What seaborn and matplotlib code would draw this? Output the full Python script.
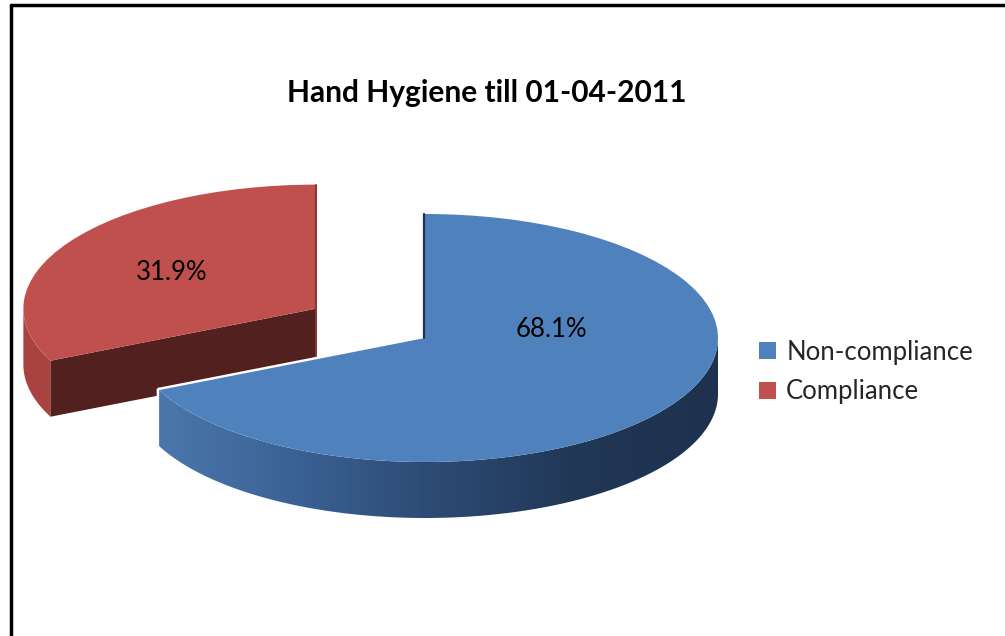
import numpy as np
import matplotlib
matplotlib.use("Agg")
import matplotlib.pyplot as plt
import matplotlib.patches as mpatches
from matplotlib.colors import LinearSegmentedColormap
from matplotlib.lines import Line2D
import seaborn as sns

# data
categories = ["Non-compliance", "Compliance"]
shares = [68.1, 31.9]
explode = [0.0, 0.44]
colors = ["#4f81bd", "#c0504d"]
title = "Hand Hygiene till 01-04-2011"

sns.set_theme(style="white")
plt.rcParams["font.family"] = ["Lato", "DejaVu Sans"]

W, H = 1005, 636
cx, cy, rx, ry = 425, 338, 293, 124   # pie centre / radii in pixels
depth = 56 / ry                         # thickness in data units

fig = plt.figure(figsize=(W / 100, H / 100), dpi=100)
ax = fig.add_axes([0, 0, 1, 1])

wedges, _ = ax.pie(shares, colors=colors, explode=explode, startangle=90,
                   counterclock=False, radius=1, wedgeprops=dict(linewidth=0))

side_col = {"Compliance": "#a9433f"}
cut_col = {"Compliance": "#52201f"}
blue_grad = LinearSegmentedColormap.from_list(
    "side", ["#4b77ad", "#3a6193", "#2c4a72", "#213756", "#1e324f"])


def rim_polygon(w):
    t = np.radians(np.linspace(w.theta1, w.theta2, 400))
    t = t[np.sin(t) <= 0]
    if len(t) < 2:
        return None
    x0, y0 = w.center
    top = np.column_stack([x0 + w.r * np.cos(t), y0 + w.r * np.sin(t)])
    bot = top - [0, depth]
    return np.vstack([top, bot[::-1]])


def cut_polygon(w):
    # radial face whose outward normal points towards the viewer
    x0, y0 = w.center
    for a, n in ((w.theta1, w.theta1 - 90), (w.theta2, w.theta2 + 90)):
        if np.sin(np.radians(n)) < -0.05:
            ex = x0 + w.r * np.cos(np.radians(a))
            ey = y0 + w.r * np.sin(np.radians(a))
            return np.array([[x0, y0], [ex, ey], [ex, ey - depth], [x0, y0 - depth]])
    return None


blue, red = wedges

# back slice (Compliance)
red.set_zorder(2)
rp = rim_polygon(red)
if rp is not None:
    ax.add_patch(mpatches.Polygon(rp, fc=side_col["Compliance"], ec="none", zorder=1))
cp = cut_polygon(red)
if cp is not None:
    ax.add_patch(mpatches.Polygon(cp, fc=cut_col["Compliance"], ec="none", zorder=1.2))
rx0, ry0 = red.center
ax.plot([rx0, rx0], [ry0 - depth, ry0 + red.r], color="#8a3532", lw=1.4, zorder=2.1)

# front slice (Non-compliance) with a white gap around it
bp = rim_polygon(blue)
ax.add_patch(mpatches.Wedge(blue.center, blue.r, blue.theta1, blue.theta2,
                            fc="white", ec="white", lw=3.5, joinstyle="round", zorder=2.5))
ax.add_patch(mpatches.Polygon(bp, fc="white", ec="white", lw=3.5, joinstyle="round",
                              zorder=2.5))
side = mpatches.Polygon(bp, fc="none", ec="none", zorder=3)
ax.add_patch(side)
grad = np.linspace(0, 1, 256).reshape(1, -1)
img = ax.imshow(grad, cmap=blue_grad, aspect="auto", zorder=3,
                extent=(bp[:, 0].min(), bp[:, 0].max(), bp[:, 1].min(), bp[:, 1].max()))
img.set_clip_path(side)
blue.set_zorder(4)
bx0, by0 = blue.center
ax.plot([bx0 - 0.004, bx0 - 0.004], [by0, by0 + blue.r], color="#1f3350", lw=1.6, zorder=4.5)

# value labels
label_pos = [(0.433, 0.065), (-0.863, 0.532)]
for v, (lx, ly) in zip(shares, label_pos):
    ax.text(lx, ly, f"{v:.1f}%", ha="center", va="center", fontsize=18.5,
            color="black", zorder=6)

ax.set_xlim(-cx / rx, (W - cx) / rx)
ax.set_ylim((cy - H) / ry, cy / ry)
ax.set_aspect("auto")
ax.axis("off")

fig.text(487 / W, 1 - 93 / H, title, ha="center", va="center",
         fontsize=21.5, fontweight="bold", color="black")

ax.legend(wedges, categories, loc="center left",
          bbox_to_anchor=(759 / W, 1 - 372 / H), bbox_transform=fig.transFigure,
          frameon=False, fontsize=18.5, handlelength=0.68, handleheight=0.68,
          handletextpad=0.38, labelspacing=0.58, borderaxespad=0, borderpad=0)

# chart border (left and top)
fig.add_artist(Line2D([11 / W, 11 / W], [0, 1 - 5 / H], transform=fig.transFigure,
                      color="black", lw=2.5))
fig.add_artist(Line2D([11 / W, 1], [1 - 5 / H, 1 - 5 / H], transform=fig.transFigure,
                      color="black", lw=2.5))

fig.savefig("out.png", dpi=100, facecolor="white")
